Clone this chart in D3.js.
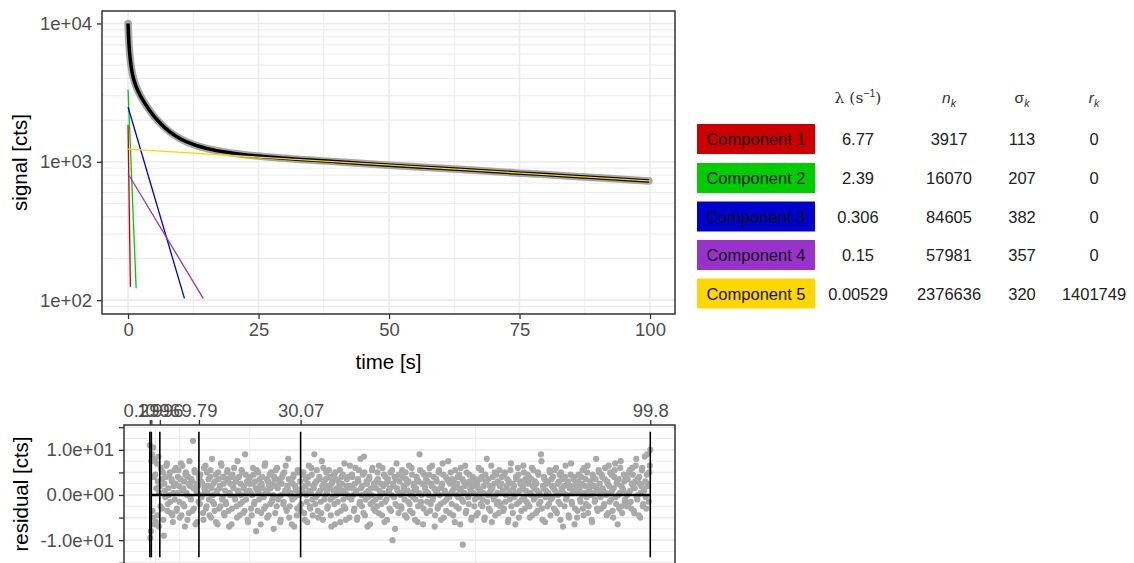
<!DOCTYPE html>
<html>
<head>
<meta charset="utf-8">
<script src="https://cdn.jsdelivr.net/npm/d3@7"></script>
<style>
body { margin: 0; background: #fff; }
svg text { font-family: "Liberation Sans", Arial, sans-serif; }
</style>
</head>
<body>
<svg id="svg1" width="1134" height="563"></svg>
<script>
// total signal curve
var SignalTime = [0, 0.1, 0.25, 0.5, 0.75, 1, 1.5, 2, 3, 4, 5, 6, 8, 10, 12.5, 15, 20, 25, 30, 40, 50, 60, 70, 80, 90, 99.8];
var SignalTotal = [10000, 8000, 6500, 5200, 4500, 4070, 3540, 3200, 2730, 2390, 2130, 1930, 1645, 1470, 1335, 1250, 1155, 1100, 1060, 1000, 946, 898, 851, 808, 766, 728];

// components: start and end of each line
var ComponentNames = ["Component 1", "Component 2", "Component 3", "Component 4", "Component 5"];
var ComponentColors = ["#CD0000", "#00CD00", "#0000CD", "#9932CC", "#FFD700"];
var ComponentTime = [[0, 0.45], [0, 1.55], [0, 10.8], [0, 14.4], [0, 99.8]];
var ComponentSignal = [[1850, 125], [3330, 122], [2490, 103], [820, 103], [1233, 728]];

// table next to the plot
var Lambda = ["6.77", "2.39", "0.306", "0.15", "0.00529"];
var Nk = ["3917", "16070", "84605", "57981", "2376636"];
var Sigma = ["113", "207", "382", "357", "320"];
var Rk = ["0", "0", "0", "0", "1401749"];

// axis ticks
var TimeTicks = [0, 25, 50, 75, 100];
var SignalTicks = [100, 1000, 10000];
var SignalTickLabels = ["1e+02", "1e+03", "1e+04"];
var ResTicks = [-15, -10, -5, 0, 5, 10, 15];
var ResTickLabels = {"-10": "-1.0e+01", "0": "0.0e+00", "10": "1.0e+01"};

// integration intervals shown on the residual plot
var IntervalBreaks = [0, 0.2996, 1.996, 9.79, 30.07, 99.8];
var IntervalLabels = ["0", "0.2996", "1.996", "9.79", "30.07", "99.8"];

// residuals, one every ResStep seconds (set A at 0, 0.2, ... set B at 0.1, 0.3, ...)
var ResStep = 0.2;
var ResidualsA = [
 11, -8, 9, -5, 4, 8, -6, 7, 3, -7, 2, 6, -3, 5, -9, 1, 4, 7, -2, 0, 5, -4, 3, -6, 2,
 -1, 6, -3, 4, 2, -5, 7, 1, -2, 3, -7, 5, 0, 4, -4, 2, -1, 3, 12, -3, 5, 1, -6, 2, 4,
 -2, 3, 0, -4, 6, 1, -3, 5, 2, -1, 4, -5, 8, 0, -2, 3, -6, 1, 5, -3, 2, 7, -1, 4, -4,
 1, -2, 5, 3, -7, 0, 4, -3, 2, 6, -1, 3, -5, 1, 4, -2, 0, 5, -4, 2, 9, -1, 3, -6, 1,
 4, -3, 0, 6, -2, 3, -8, 1, 5, -1, 2, -4, 4, 0, -3, 7, 1, -5, 3, 2, -2, 5, -1, 0, 4,
 -4, 2, 6, -1, 3, -6, 0, 4, -2, 5, 1, -3, 2, 8, -5, 0, 3, -1, 4, -7, 2, 1, -3, 5, 0,
 3, -2, 1, 5, -4, 2, 0, -6, 4, 1, -3, 6, -1, 2, 9, -2, 3, 0, -5, 4, 1, -4, 2, 6, -1,
 0, 5, -3, 2, 4, -1, -7, 3, 1, -2, 5, 0, -4, 3, 2, -6, 4, 1, -1, 7, -3, 2, 0, 4, -5,
 2, -1, 4, 0, -3, 6, 1, -5, 3, -2, 8, 0, 2, -4, 5, -1, 3, -7, 1, 4, -2, 0, 6, -3, 2,
 -1, 3, 5, -4, 1, 0, -2, 6, 2, -6, 4, -1, 3, 1, -3, 5, 0, -10, 2, 4, -2, 7, 1, -4, 3,
 0, -3, 4, 2, -1, 5, -5, 1, 3, -2, 0, 6, -4, 2, 1, -1, 4, -6, 3, 9, -2, 0, 5, -3, 2,
 1, -4, 3, 0, 6, -2, 2, -1, 4, -7, 1, 3, -3, 5, 0, -2, 2, 7, -5, 1, 4, -1, 0, 3, -4,
 5, -2, 1, 3, -6, 2, 0, 4, -3, 1, 6, -1, -11, 3, 2, -4, 5, 0, -2, 3, 1, -5, 4, 2, -1,
 3, 0, -4, 6, 1, -2, 4, -1, 2, -5, 3, 8, 0, -3, 2, 1, -6, 4, -1, 5, 0, -2, 3, -4, 2,
 -2, 4, 1, -3, 5, 0, 2, -6, 3, -1, 7, 1, -4, 2, 0, 4, -2, 6, -5, 1, 3, -1, 2, 5, -3,
 1, 3, -2, 4, -5, 0, 6, 2, -1, 3, -4, 1, 5, -2, 0, 9, -3, 2, 4, -6, 1, 0, 3, -2, 5,
 -1, 2, 4, -3, 1, 6, -4, 0, 3, -2, 5, 1, -7, 2, 4, -1, 0, 3, -5, 2, 7, -2, 1, 4, -3,
 2, -5, 3, 1, -1, 4, 0, -3, 6, 2, -2, 5, -4, 1, 3, 0, -6, 4, 2, -1, 8, -3, 1, 5, 0,
 -3, 4, 1, -2, 6, 0, 3, -4, 2, 5, -1, 1, -5, 4, 7, -2, 3, 0, -3, 6, 2, -4, 1, 3, -1,
 4, 0, -2, 5, 1, -3, 6, 2, -4, 3, 8, -1, 0, 4, -5, 2, 6, -2, 1, 3, -3, 9, 2, 5, 10
];
var ResidualsB = [
 -9.5, 7.5, -3.5, 10.5, -6.5, 4.5, 1.5, -4.5, 8.5, 0.5, -2.5, 5.5, 3.5, -5.5, 2.5, -0.5, 6.5, -3.5, 1.5, 4.5, -1.5, 3.5, -4.5, 0.5, 5.5,
 2.5, -3.5, 0.5, 5.5, -1.5, 3.5, -4.5, 6.5, 1.5, -2.5, 4.5, 0.5, -5.5, 2.5, 7.5, -0.5, 3.5, -3.5, 1.5, 5.5, -6.5, 2.5, 0.5, -1.5, 3.5,
 4.5, -0.5, 2.5, -5.5, 1.5, 6.5, -2.5, 0.5, 3.5, -4.5, 5.5, 1.5, -1.5, 2.5, -3.5, 4.5, 0.5, -6.5, 3.5, 1.5, -2.5, 6.5, -0.5, 2.5, -4.5,
 -1.5, 3.5, 5.5, -3.5, 0.5, 2.5, -6.5, 4.5, 1.5, -0.5, 3.5, -2.5, 7.5, 0.5, -4.5, 2.5, 5.5, -1.5, 1.5, -3.5, 4.5, 0.5, -5.5, 3.5, 2.5,
 0.5, -4.5, 2.5, 4.5, -1.5, 1.5, 5.5, -3.5, 0.5, 3.5, -6.5, 2.5, 1.5, -0.5, 6.5, -2.5, 3.5, 0.5, -4.5, 4.5, 1.5, -1.5, 2.5, -7.5, 3.5,
 5.5, -2.5, 1.5, -0.5, 3.5, -5.5, 2.5, 4.5, -1.5, 0.5, 6.5, -3.5, 1.5, 3.5, -2.5, 0.5, -6.5, 2.5, 4.5, -0.5, 1.5, -4.5, 5.5, 0.5, -2.5,
 -3.5, 1.5, 4.5, 0.5, -5.5, 3.5, -1.5, 2.5, 6.5, -2.5, 0.5, 4.5, -4.5, 1.5, 2.5, -0.5, 5.5, -3.5, 0.5, 3.5, -1.5, 7.5, -5.5, 2.5, 1.5,
 3.5, 0.5, -2.5, 5.5, 1.5, -4.5, 2.5, -0.5, 4.5, -6.5, 3.5, 1.5, -1.5, 0.5, 5.5, -3.5, 2.5, 4.5, -2.5, 0.5, -5.5, 3.5, 1.5, -0.5, 6.5,
 -0.5, 4.5, 1.5, -3.5, 2.5, 0.5, -5.5, 3.5, 5.5, -1.5, 1.5, -2.5, 4.5, 8.5, -4.5, 0.5, 2.5, -0.5, 3.5, -6.5, 1.5, 5.5, -1.5, 2.5, -3.5,
 1.5, -2.5, 3.5, 6.5, -0.5, 2.5, -4.5, 0.5, 4.5, -1.5, 2.5, -5.5, 3.5, 0.5, 1.5, -3.5, 5.5, 2.5, -0.5, -7.5, 3.5, 1.5, -2.5, 4.5, 0.5,
 -2.5, 5.5, 0.5, 1.5, -4.5, 3.5, 2.5, -1.5, 6.5, -3.5, 0.5, 4.5, -0.5, 2.5, -5.5, 1.5, 3.5, -2.5, 0.5, 5.5, -1.5, 2.5, -6.5, 4.5, 1.5,
 3.5, -1.5, 0.5, 4.5, -3.5, 2.5, 6.5, -0.5, 1.5, -4.5, 3.5, 0.5, -2.5, 5.5, 1.5, -5.5, 2.5, 4.5, -1.5, 0.5, -3.5, 3.5, 7.5, -0.5, 2.5,
 0.5, 3.5, -4.5, 1.5, 5.5, -2.5, 2.5, -0.5, 4.5, -6.5, 1.5, 3.5, -1.5, 0.5, 6.5, -3.5, 2.5, -0.5, 4.5, 1.5, -5.5, 2.5, 0.5, -2.5, 3.5,
 -4.5, 2.5, 1.5, -0.5, 3.5, 5.5, -2.5, 0.5, -5.5, 4.5, 2.5, -1.5, 3.5, 0.5, -3.5, 6.5, 1.5, -0.5, 2.5, -4.5, 4.5, 0.5, -1.5, 5.5, -2.5,
 2.5, 0.5, -3.5, 4.5, -1.5, 1.5, 3.5, -5.5, 0.5, 5.5, -2.5, 2.5, 1.5, -0.5, -6.5, 3.5, 0.5, 4.5, -1.5, 2.5, -3.5, 1.5, 6.5, -0.5, 3.5,
 -1.5, 4.5, 2.5, -2.5, 0.5, 3.5, -4.5, 5.5, 1.5, -0.5, 2.5, -3.5, 4.5, 0.5, -1.5, 7.5, -5.5, 1.5, 3.5, -0.5, 2.5, -2.5, 0.5, 5.5, -4.5,
 3.5, -0.5, 1.5, 5.5, -3.5, 0.5, 2.5, -1.5, 4.5, -5.5, 1.5, 3.5, 0.5, -2.5, 6.5, -0.5, 2.5, -4.5, 1.5, 4.5, -1.5, 0.5, 3.5, -6.5, 2.5,
 0.5, -3.5, 4.5, 1.5, -1.5, 2.5, 5.5, -4.5, 0.5, 3.5, -0.5, 6.5, -2.5, 1.5, 2.5, -5.5, 4.5, 0.5, -1.5, 3.5, 1.5, -3.5, 5.5, 2.5, -0.5,
 4.5, 1.5, -2.5, 3.5, 0.5, -4.5, 2.5, 6.5, -1.5, 0.5, 4.5, -3.5, 1.5, 5.5, -0.5, 2.5, -6.5, 3.5, 0.5, 7.5, -2.5, 1.5, 4.5, -1.5, 3.5,
 -2.5, 3.5, 0.5, 5.5, -1.5, 2.5, 4.5, -3.5, 1.5, 6.5, -0.5, 3.5, -4.5, 2.5, 0.5, 5.5, -2.5, 1.5, 8.5, -0.5, 4.5, 2.5, -1.5, 6.5
];

var GridColor = "#EBEBEB";
var TickColor = "#4D4D4D";
var TickFont = "18.5px";
var TitleFont = "20.5px";
var svg = d3.select("#svg1");

function StyleAxis(a) {
    a.select(".domain").remove();
    a.selectAll(".tick line").style("stroke", "#333").style("stroke-width", 1.3);
    a.selectAll(".tick text").style("fill", TickColor).style("font-size", TickFont)
        .style("font-family", "Liberation Sans, Arial, sans-serif");
}

function DrawSignalPlot() {
    var left = 102, right = 675, top = 11, bottom = 314;
    var x = d3.scaleLinear().domain([-4.99, 104.79]).range([left, right]);
    var y = d3.scaleLog().domain([Math.pow(10, 1.9), Math.pow(10, 4.09)]).range([bottom, top]);

    svg.append("clipPath").attr("id", "clipTop")
        .append("rect").attr("x", left).attr("y", top).attr("width", right - left).attr("height", bottom - top);

    var g = svg.append("g");

    // log minor grid
    var minor = [];
    for (var p = 1; p <= 3; p++) {
        for (var m = 2; m <= 9; m++) {
            var v = m * Math.pow(10, p);
            if (v > y.domain()[0] && v < y.domain()[1]) minor.push(v);
        }
    }
    g.selectAll(".hminor").data(minor).enter().append("line")
        .attr("x1", left).attr("x2", right)
        .attr("y1", function(d){ return y(d); }).attr("y2", function(d){ return y(d); })
        .style("stroke", GridColor).style("stroke-width", 1);
    g.selectAll(".vminor").data([12.5, 37.5, 62.5, 87.5]).enter().append("line")
        .attr("y1", top).attr("y2", bottom)
        .attr("x1", function(d){ return x(d); }).attr("x2", function(d){ return x(d); })
        .style("stroke", GridColor).style("stroke-width", 1);
    g.selectAll(".hmajor").data(SignalTicks).enter().append("line")
        .attr("x1", left).attr("x2", right)
        .attr("y1", function(d){ return y(d); }).attr("y2", function(d){ return y(d); })
        .style("stroke", GridColor).style("stroke-width", 1.6);
    g.selectAll(".vmajor").data(TimeTicks).enter().append("line")
        .attr("y1", top).attr("y2", bottom)
        .attr("x1", function(d){ return x(d); }).attr("x2", function(d){ return x(d); })
        .style("stroke", GridColor).style("stroke-width", 1.6);

    var pts = SignalTime.map(function(t, i){ return [t, SignalTotal[i]]; });
    var line = d3.line()
        .x(function(d){ return x(d[0]); })
        .y(function(d){ return y(d[1]); })
        .curve(d3.curveMonotoneX);

    var plot = g.append("g").attr("clip-path", "url(#clipTop)");
    // measured points shown as a grey band
    plot.append("path").datum(pts).attr("d", line)
        .style("fill", "none").style("stroke", "#A6A6A6").style("stroke-width", 7.5)
        .style("stroke-linecap", "round");
    plot.append("path").datum(pts).attr("d", line)
        .style("fill", "none").style("stroke", "#000").style("stroke-width", 3.5);

    for (var i = 0; i < ComponentNames.length; i++) {
        var cp = [[ComponentTime[i][0], ComponentSignal[i][0]], [ComponentTime[i][1], ComponentSignal[i][1]]];
        plot.append("path").datum(cp).attr("d", d3.line().x(function(d){ return x(d[0]); }).y(function(d){ return y(d[1]); }))
            .style("fill", "none").style("stroke", ComponentColors[i]).style("stroke-width", 1.3);
    }

    // border
    g.append("rect").attr("x", left).attr("y", top).attr("width", right - left).attr("height", bottom - top)
        .style("fill", "none").style("stroke", "#333").style("stroke-width", 1.5);

    // axes
    var xa = g.append("g").attr("transform", "translate(0," + bottom + ")")
        .call(d3.axisBottom(x).tickValues(TimeTicks).tickSize(5).tickPadding(4));
    var ya = g.append("g").attr("transform", "translate(" + left + ",0)")
        .call(d3.axisLeft(y).tickValues(SignalTicks).tickSize(5).tickPadding(5)
            .tickFormat(function(d, i){ return SignalTickLabels[i]; }));
    StyleAxis(xa);
    StyleAxis(ya);

    g.append("text").attr("x", (left + right) / 2).attr("y", 369)
        .attr("text-anchor", "middle").style("font-size", TitleFont).text("time [s]");
    g.append("text").attr("transform", "translate(27," + (top + bottom) / 2 + ") rotate(-90)")
        .attr("text-anchor", "middle").style("font-size", TitleFont).text("signal [cts]");
}

function DrawTable() {
    var g = svg.append("g");
    var colX = [858, 949, 1022, 1094];
    var rowY = [139, 178, 216.5, 255, 293.5];
    var boxLeft = 697, boxWidth = 118, boxHeight = 30;

    // header
    var h = g.append("g").style("font-size", "15.5px").style("fill", "#333");
    var t1 = h.append("text").attr("x", colX[0]).attr("y", 103).attr("text-anchor", "middle");
    t1.append("tspan").style("font-family", "DejaVu Serif, serif").text("\u03bb (s");
    t1.append("tspan").attr("dy", -6).style("font-size", "10.5px").text("\u22121");
    t1.append("tspan").attr("dy", 6).style("font-family", "DejaVu Serif, serif").text(")");
    var sym = [["n", colX[1]], ["\u03c3", colX[2]], ["r", colX[3]]];
    sym.forEach(function(s, i){
        var t = h.append("text").attr("x", s[1]).attr("y", 103).attr("text-anchor", "middle");
        t.append("tspan").style("font-style", i == 1 ? "normal" : "italic").text(s[0]);
        t.append("tspan").attr("dy", 4).style("font-size", "10.5px").style("font-style", "italic").text("k");
    });

    g.selectAll(".box").data(ComponentNames).enter().append("rect")
        .attr("x", boxLeft).attr("width", boxWidth).attr("height", boxHeight)
        .attr("y", function(d, i){ return rowY[i] - boxHeight / 2; })
        .style("fill", function(d, i){ return ComponentColors[i]; });
    g.selectAll(".boxtext").data(ComponentNames).enter().append("text")
        .attr("x", boxLeft + boxWidth / 2).attr("y", function(d, i){ return rowY[i] + 6; })
        .attr("text-anchor", "middle").style("font-size", "16.5px").style("fill", "#111")
        .text(function(d){ return d; });

    var cols = [Lambda, Nk, Sigma, Rk];
    cols.forEach(function(col, c){
        g.selectAll(".col" + c).data(col).enter().append("text")
            .attr("x", colX[c]).attr("y", function(d, i){ return rowY[i] + 6; })
            .attr("text-anchor", "middle").style("font-size", "16.5px").style("fill", "#222")
            .text(function(d){ return d; });
    });
}

function DrawResidualPlot() {
    var left = 124, right = 675, top = 425, bottom = 565;
    var x = d3.scaleLinear().domain([-4.99, 104.79]).range([left + 0.8, right + 0.3]);
    var y = d3.scaleLinear().domain([-15.5, 15.5]).range([bottom, top]);

    svg.append("clipPath").attr("id", "clipRes")
        .append("rect").attr("x", left).attr("y", top).attr("width", right - left).attr("height", bottom - top);

    var g = svg.append("g");
    var plot = g.append("g").attr("clip-path", "url(#clipRes)");

    var hminor = [-12.5, -7.5, -2.5, 2.5, 7.5, 12.5];
    plot.selectAll(".hminor").data(hminor).enter().append("line")
        .attr("x1", left).attr("x2", right)
        .attr("y1", function(d){ return y(d); }).attr("y2", function(d){ return y(d); })
        .style("stroke", GridColor).style("stroke-width", 1);
    plot.selectAll(".hmajor").data(ResTicks).enter().append("line")
        .attr("x1", left).attr("x2", right)
        .attr("y1", function(d){ return y(d); }).attr("y2", function(d){ return y(d); })
        .style("stroke", GridColor).style("stroke-width", 1.6);
    var vminor = [];
    for (var i = 0; i < IntervalBreaks.length - 1; i++) {
        vminor.push((IntervalBreaks[i] + IntervalBreaks[i + 1]) / 2);
    }
    plot.selectAll(".vminor").data(vminor).enter().append("line")
        .attr("y1", top).attr("y2", bottom)
        .attr("x1", function(d){ return x(d); }).attr("x2", function(d){ return x(d); })
        .style("stroke", GridColor).style("stroke-width", 1);

    plot.selectAll(".resA").data(ResidualsA).enter().append("circle")
        .attr("cx", function(d, i){ return x(i * ResStep); })
        .attr("cy", function(d){ return y(d); })
        .attr("r", 3.1)
        .style("fill", "#A9A9A9");
    plot.selectAll(".resB").data(ResidualsB).enter().append("circle")
        .attr("cx", function(d, i){ return x(i * ResStep + ResStep / 2); })
        .attr("cy", function(d){ return y(d); })
        .attr("r", 3.1)
        .style("fill", "#A9A9A9");

    plot.append("line")
        .attr("x1", x(IntervalBreaks[1])).attr("x2", x(IntervalBreaks[IntervalBreaks.length - 1]))
        .attr("y1", y(0)).attr("y2", y(0))
        .style("stroke", "#000").style("stroke-width", 2.6);
    plot.selectAll(".brk").data(IntervalBreaks).enter().append("line")
        .attr("x1", function(d){ return x(d); }).attr("x2", function(d){ return x(d); })
        .attr("y1", y(14)).attr("y2", y(-13.8))
        .style("stroke", "#000").style("stroke-width", 1.6);

    g.append("rect").attr("x", left).attr("y", top).attr("width", right - left).attr("height", bottom - top)
        .style("fill", "none").style("stroke", "#333").style("stroke-width", 1.5);

    var xa = g.append("g").attr("transform", "translate(0," + top + ")")
        .call(d3.axisTop(x).tickValues(IntervalBreaks).tickSize(5).tickPadding(3)
            .tickFormat(function(d, i){ return IntervalLabels[i]; }));
    var ya = g.append("g").attr("transform", "translate(" + left + ",0)")
        .call(d3.axisLeft(y).tickValues(ResTicks).tickSize(5).tickPadding(5)
            .tickFormat(function(d){ return ResTickLabels[d] || ""; }));
    StyleAxis(xa);
    StyleAxis(ya);

    g.append("text").attr("transform", "translate(28,494) rotate(-90)")
        .attr("text-anchor", "middle").style("font-size", TitleFont).text("residual [cts]");
}

DrawSignalPlot();
DrawTable();
DrawResidualPlot();
</script>
</body>
</html>
